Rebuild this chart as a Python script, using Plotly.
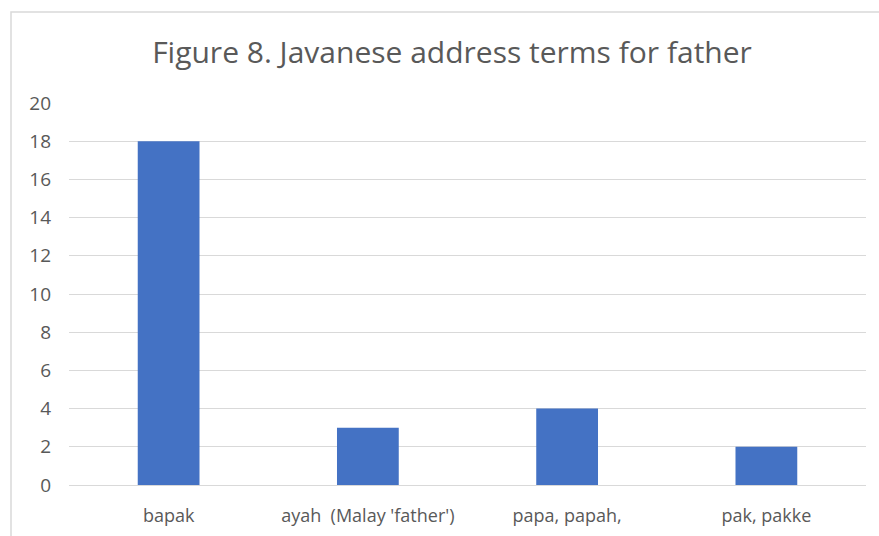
import plotly.graph_objects as go

# Address-term categories and their counts
categories = ["bapak", "ayah  (Malay 'father')", "papa, papah,", "pak, pakke"]
counts = [18, 3, 4, 2]
y_ticks = [0, 2, 4, 6, 8, 10, 12, 14, 16, 18, 20]

W, H = 879, 536
L, R, T, B = 69, 13, 103, 51
plot_h = H - T - B
plot_w = W - L - R

fig = go.Figure(
    go.Bar(
        x=categories,
        y=counts,
        marker=dict(color="#4472C4", line=dict(width=0)),
        hoverinfo="x+y",
    )
)

# Light chart-area frame (left and top edges visible)
fx0 = (11 - L) / plot_w
fy1 = (H - B - 12) / plot_h
fig.add_shape(
    type="rect", xref="paper", yref="paper",
    x0=fx0, x1=1.2, y0=-0.5, y1=fy1,
    line=dict(color="#D9D9D9", width=1.5), fillcolor="rgba(0,0,0,0)",
    layer="below",
)

fig.update_layout(
    width=W, height=H,
    margin=dict(l=L, r=R, t=T, b=B, autoexpand=False),
    paper_bgcolor="white", plot_bgcolor="white",
    bargap=0.69,
    showlegend=False,
    title=dict(
        text="Figure 8. Javanese address terms for father",
        x=(452 - L) / plot_w, xref="paper", xanchor="center",
        y=1 - 52 / H, yanchor="middle",
        font=dict(family="Open Sans", size=30, color="#595959"),
    ),
    font=dict(family="Open Sans", color="#595959"),
)

fig.update_yaxes(
    range=[0, 20], tickvals=y_ticks, automargin=False,
    showgrid=True, gridcolor="#D9D9D9", gridwidth=1,
    zeroline=False, showline=False, ticks="",
    ticklabelstandoff=17,
    tickfont=dict(size=19, color="#595959"),
)
fig.update_xaxes(
    automargin=False,
    showgrid=False, showline=True, linecolor="#D9D9D9", linewidth=1,
    ticks="", ticklabelstandoff=14,
    tickfont=dict(size=18, color="#595959"),
)

fig.write_html("out.html")
